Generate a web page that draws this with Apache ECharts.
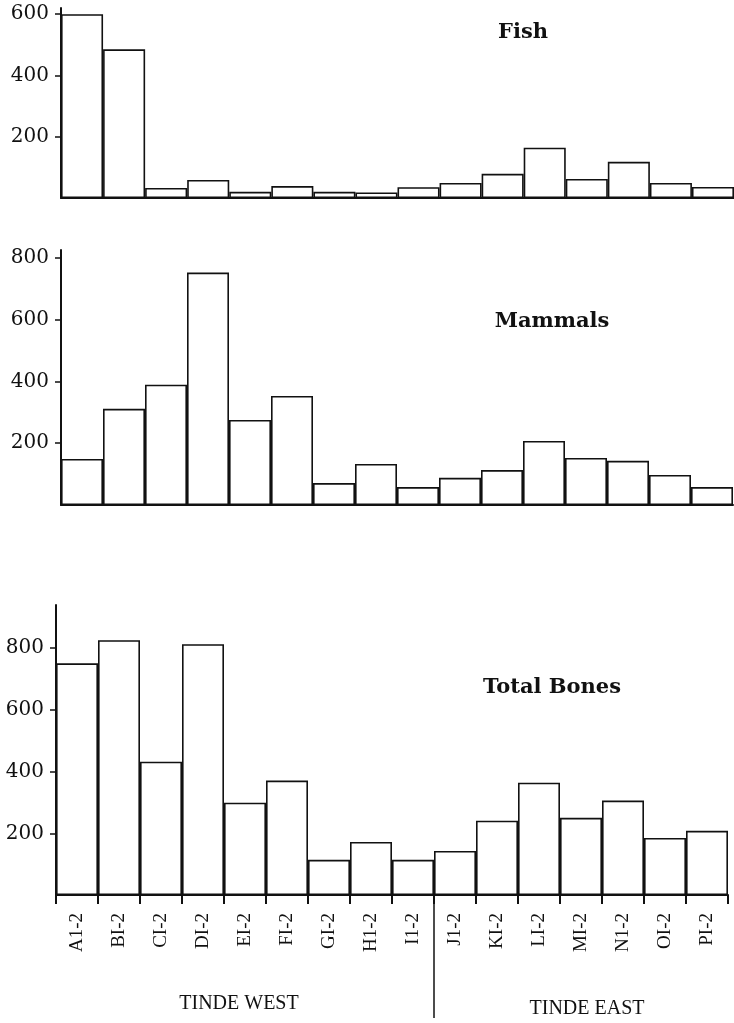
<!DOCTYPE html>
<html>
<head>
<meta charset="utf-8">
<script src="https://cdn.jsdelivr.net/npm/echarts@6/dist/echarts.min.js"></script>
<style>
html,body{margin:0;padding:0;background:#fff;}
#c{width:734px;height:1023px;}
</style>
</head>
<body>
<div id="c"></div>
<script>
const categories = ['A1-2','BI-2','CI-2','DI-2','EI-2','FI-2','GI-2','H1-2','I1-2','J1-2','KI-2','LI-2','MI-2','N1-2','OI-2','PI-2'];
const fish = [600, 485, 33, 59, 20, 39, 20, 18, 35, 49, 79, 164, 62, 118, 49, 36];
const mammals = [149, 311, 389, 752, 275, 353, 71, 133, 58, 88, 113, 207, 152, 143, 97, 58];
const totalBones = [751, 826, 432, 813, 299, 371, 114, 172, 114, 143, 241, 364, 250, 306, 185, 208];
const fishTicks = [200, 400, 600];
const mammalTicks = [200, 400, 600, 800];
const totalTicks = [200, 400, 600, 800];
const panelTitles = ['Fish', 'Mammals', 'Total Bones'];
const groupLabels = ['TINDE WEST', 'TINDE EAST'];

const chart = echarts.init(document.getElementById('c'), null, {renderer: 'canvas'});
const black = '#111';
const yFont = {fontFamily: 'DejaVu Serif', fontSize: 20, color: black};

function yAxis(idx, max, ticks) {
  return {
    type: 'value', gridIndex: idx, min: 0, max: max,
    splitLine: {show: false},
    axisLine: {show: true, lineStyle: {color: black, width: 2}},
    axisTick: {show: true, length: 6, lineStyle: {color: black, width: 1.5}, customValues: ticks},
    axisLabel: Object.assign({margin: 12, customValues: ticks}, yFont)
  };
}
function xAxis(idx, showLabels) {
  return {
    type: 'category', gridIndex: idx, data: categories,
    axisLine: {show: true, lineStyle: {color: black, width: 2}},
    axisTick: {show: showLabels, length: 9, inside: false, lineStyle: {color: black, width: 2}},
    axisLabel: {show: showLabels, rotate: 90, margin: 18, fontFamily: 'Liberation Serif', fontSize: 19, color: black, interval: 0},
    splitLine: {show: false}
  };
}
function bars(idx, data) {
  return {
    type: 'bar', xAxisIndex: idx, yAxisIndex: idx, data: data,
    barCategoryGap: '0%',
    itemStyle: {color: '#fff', borderColor: black, borderWidth: 1.6},
    silent: true
  };
}

chart.setOption({
  animation: false,
  backgroundColor: '#fff',
  grid: [
    {left: 61, top: 8, right: 0, height: 190},
    {left: 61, top: 250, right: 1, height: 255},
    {left: 56, top: 605, right: 6, height: 290}
  ],
  xAxis: [xAxis(0, false), xAxis(1, false), xAxis(2, true)],
  yAxis: [yAxis(0, 620, fishTicks), yAxis(1, 825, mammalTicks), yAxis(2, 940, totalTicks)],
  series: [bars(0, fish), bars(1, mammals), bars(2, totalBones)]
});

const x8 = chart.convertToPixel({xAxisIndex: 2}, 8);
const x9 = chart.convertToPixel({xAxisIndex: 2}, 9);
const xDiv = (x8 + x9) / 2;
const yBase = chart.convertToPixel({yAxisIndex: 2}, 0);
const titleFont = 'bold 21px "DejaVu Serif"';
chart.setOption({
  graphic: [
    {type: 'text', x: 523, y: 33, style: {text: panelTitles[0], font: titleFont, fill: black, align: 'center', verticalAlign: 'middle'}},
    {type: 'text', x: 552, y: 322, style: {text: panelTitles[1], font: titleFont, fill: black, align: 'center', verticalAlign: 'middle'}},
    {type: 'text', x: 552, y: 688, style: {text: panelTitles[2], font: titleFont, fill: black, align: 'center', verticalAlign: 'middle'}},
    {type: 'text', x: 239, y: 1004, style: {text: groupLabels[0], font: '20px "Liberation Serif"', fill: black, align: 'center', verticalAlign: 'middle'}},
    {type: 'text', x: 587, y: 1009, style: {text: groupLabels[1], font: '20px "Liberation Serif"', fill: black, align: 'center', verticalAlign: 'middle'}},
    {type: 'line', shape: {x1: xDiv, y1: yBase, x2: xDiv, y2: yBase + 123}, style: {stroke: black, lineWidth: 1.5}}
  ]
});
</script>
</body>
</html>
